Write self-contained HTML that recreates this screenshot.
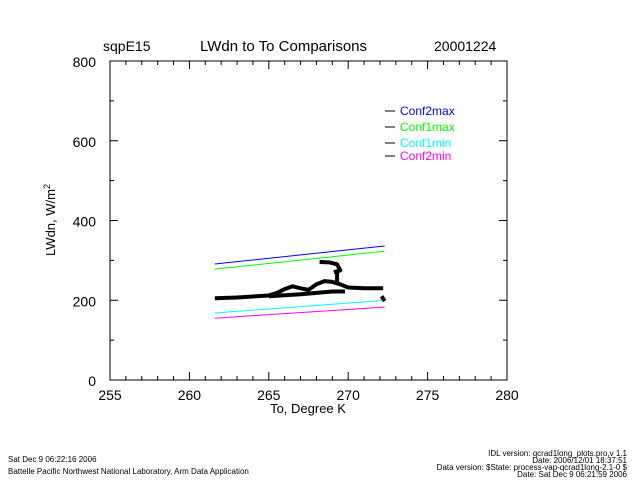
<!DOCTYPE html>
<html><head><meta charset="utf-8"><style>
body{margin:0;background:#fff;width:640px;height:480px;overflow:hidden}
text{font-family:"Liberation Sans",sans-serif}
</style></head><body>
<svg width="640" height="480" id="svg">
<text x="103" y="51" font-size="14">sqpE15</text>
<text x="200" y="51" font-size="15">LWdn  to To Comparisons</text>
<text x="434" y="51" font-size="14">20001224</text>
<rect x="110" y="61" width="397" height="319" fill="none" stroke="#000"/>
<g id="ticks"></g>
<text x="308" y="413" font-size="13" text-anchor="middle">To, Degree K</text>
<text transform="translate(55,220) rotate(-90)" font-size="13" text-anchor="middle">LWdn, W/m<tspan font-size="9" dy="-5">2</tspan></text>
<g id="series"></g>
<g>
<line x1="385" y1="111" x2="395" y2="111" stroke="#000"/><text x="400" y="115" font-size="12" fill="#0000ff">Conf2max</text>
<line x1="385" y1="127" x2="395" y2="127" stroke="#000"/><text x="400" y="131" font-size="12" fill="#00ff00">Conf1max</text>
<line x1="385" y1="143" x2="395" y2="143" stroke="#000"/><text x="400" y="147" font-size="12" fill="#00ffff">Conf1min</text>
<line x1="385" y1="156" x2="395" y2="156" stroke="#000"/><text x="400" y="160" font-size="12" fill="#ff00ff">Conf2min</text>
</g>
<text x="8" y="462" font-size="8">Sat Dec  9 06:22:16 2006</text>
<text x="8" y="474" font-size="8">Battelle Pacific Northwest National Laboratory, Arm Data Application</text>
<g font-size="8" text-anchor="end">
<text x="627" y="456">IDL version: qcrad1long_plots.pro,v 1.1</text>
<text x="627" y="463">Date: 2006/12/01 18:37:51</text>
<text x="627" y="470">Data version: $State: process-vap-qcrad1long-2.1-0 $</text>
<text x="627" y="477">Date: Sat Dec  9 06:21:59 2006</text>
</g>
</svg>
<script>
const xTicks=[255,260,265,270,275,280];
const yTicks=[0,200,400,600,800];
const lineX=[261.6,272.3];
const conf2max=[291,336];
const conf1max=[278,323];
const conf1min=[168,200];
const conf2min=[155,183];
const mainX=[261.6,263,265,265.5,266,266.5,267,267.5,268,268.5,269,269.5,270,271,272.2];
const mainY=[205,207,212,218,228,235,230,226,240,248,246,240,232,230,230];
const lowX=[265,267,269,269.8];
const lowY=[210,215,222,222];
const blobX=[268.2,268.8,269.3,269.5,269.1];
const blobY=[296,295,290,275,270];
const dropX=[269.3,269.3];
const dropY=[275,245];
const tailX=[272.1,272.3];
const tailY=[210,198];
const NS="http://www.w3.org/2000/svg";
const sx=v=>110+(v-255)*397/25, sy=v=>380-v*319/800;
function mk(t,a,p){const e=document.createElementNS(NS,t);for(const k in a)e.setAttribute(k,a[k]);p.appendChild(e);return e;}
const tg=document.getElementById('ticks');
for(let v=255;v<=280;v++){const x=sx(v),L=v%5?4:8;
 mk('line',{x1:x,y1:380,x2:x,y2:380-L,stroke:'#000'},tg);mk('line',{x1:x,y1:61,x2:x,y2:61+L,stroke:'#000'},tg);}
for(let v=0;v<=800;v+=100){const y=sy(v),L=v%200?4:8;
 mk('line',{x1:110,y1:y,x2:110+L,y2:y,stroke:'#000'},tg);mk('line',{x1:507,y1:y,x2:507-L,y2:y,stroke:'#000'},tg);}
xTicks.forEach(v=>{const t=mk('text',{x:sx(v),y:400,'font-size':14,'text-anchor':'middle'},tg);t.textContent=v;

});
yTicks.forEach(v=>{const t=mk('text',{x:96,y:sy(v)+6,'font-size':14,'text-anchor':'end'},tg);t.textContent=v;

});
const sg=document.getElementById('series');
[[conf2max,'#0000ff','conf2max-line'],[conf1max,'#00ff00','conf1max-line'],[conf1min,'#00ffff','conf1min-line'],[conf2min,'#ff00ff','conf2min-line']].forEach(([d,c,n])=>{
 const l=mk('line',{x1:sx(lineX[0]),y1:sy(d[0]),x2:sx(lineX[1]),y2:sy(d[1]),stroke:c,'stroke-width':1},sg);
 
 });
[[mainX,mainY,'lwdn-main'],[lowX,lowY,'lwdn-lower'],[blobX,blobY,'lwdn-peak'],[dropX,dropY,'lwdn-drop'],[tailX,tailY,'lwdn-tail']].forEach(([xs,ys,n])=>{
 const p=mk('polyline',{points:xs.map((x,i)=>sx(x)+','+sy(ys[i])).join(' '),fill:'none',stroke:'#000','stroke-width':4,'stroke-linejoin':'round'},sg);
 
 });
</script>
</body></html>
